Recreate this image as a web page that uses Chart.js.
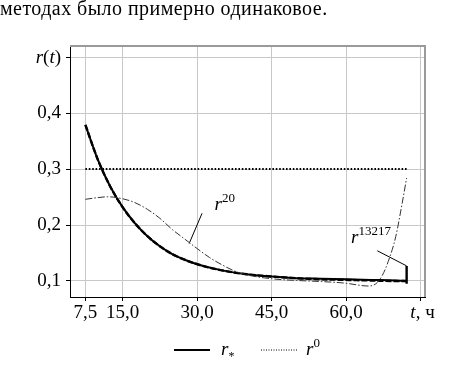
<!DOCTYPE html>
<html>
<head>
<meta charset="utf-8">
<script src="https://cdn.jsdelivr.net/npm/chart.js@4"></script>
<style>
  html, body { margin: 0; padding: 0; background: #fff; }
  #wrap { position: relative; width: 471px; height: 367px; overflow: hidden; }
  #lead {
    position: absolute; left: 0; top: -2px;
    font: 20px "Liberation Serif", "Times New Roman", serif;
    letter-spacing: 0.45px;
    line-height: 20px; white-space: nowrap; color: #000;
  }
  canvas { position: absolute; left: 0; top: 0; }
</style>
</head>
<body>
<div id="wrap">
  <canvas id="chart" width="471" height="367"></canvas>
  <div id="lead">методах было примерно одинаковое.</div>
</div>
<script>
/* ── data ────────────────────────────────────────────────── */

const X_TICKS = [7.5, 15, 30, 45, 60, 75];
const Y_TICKS = [0.1, 0.2, 0.3, 0.4, 0.5];

// r* — solid
const T_STAR = [7.5, 10, 12.5, 15, 17.5, 20, 22.5, 25, 27.5, 30, 35, 40, 45, 50, 55, 60, 65, 70, 72.2];
const R_STAR = [0.379, 0.317, 0.269, 0.232, 0.203, 0.180, 0.162, 0.148, 0.138, 0.130, 0.119, 0.112, 0.108, 0.105, 0.104, 0.103, 0.102, 0.101, 0.100];

// r^13217 — dashed, ends with a jump
const T_13217 = [7.5, 10, 12.5, 15, 17.5, 20, 22.5, 25, 27.5, 30, 35, 40, 45, 50, 55, 60, 65, 70, 72.2, 72.2, 72.2];
const R_13217 = [0.379, 0.317, 0.269, 0.232, 0.203, 0.180, 0.162, 0.148, 0.138, 0.130, 0.119, 0.112, 0.108, 0.105, 0.103, 0.102, 0.101, 0.100, 0.100, 0.127, 0.095];

// r^20 — dash-dot
const T_20 = [7.5, 10, 12, 15, 17.5, 20, 22.5, 25, 27.5, 30, 32.5, 35, 37.5, 40, 45, 50, 55, 60, 63, 64.5, 66, 67.3, 68.5, 70, 71.3, 72.2];
const R_20 = [0.246, 0.249, 0.2505, 0.247, 0.240, 0.228, 0.212, 0.192, 0.175, 0.158, 0.142, 0.129, 0.118, 0.111, 0.104, 0.101, 0.099, 0.096, 0.092, 0.091, 0.095, 0.110, 0.135, 0.179, 0.239, 0.284];

// r^0 — dotted
const T_0 = [7.5, 72.2];
const R_0 = [0.3, 0.3];

// label leader lines
const PTR20_T = [31.0, 28.4];
const PTR20_R = [0.221, 0.167];
const PTR13217_T = [66.3, 72.2];
const PTR13217_R = [0.154, 0.127];

// label anchors (data coords)
const LBL20 = { t: 33.5, r: 0.227, sup: "20" };
const LBL13217 = { t: 61.0, r: 0.168, sup: "13217" };

/* ── helpers ─────────────────────────────────────────────── */

const FONT = '"Liberation Serif", "Times New Roman", serif';
const font = (size, italic) => `${italic ? "italic " : ""}${size}px ${FONT}`;
const zip = (xs, ys) => xs.map((x, i) => ({ x, y: ys[i] }));

function drawRuns(ctx, runs, x, y, align = "left") {
  let w = 0;
  runs.forEach(r => { ctx.font = font(r.size, r.italic); r.w = ctx.measureText(r.text).width; w += r.w; });
  let cx = align === "right" ? x - w : align === "center" ? x - w / 2 : x;
  ctx.textAlign = "left";
  ctx.textBaseline = "alphabetic";
  ctx.fillStyle = "#000";
  runs.forEach(r => {
    ctx.font = font(r.size, r.italic);
    ctx.fillText(r.text, cx, y + (r.dy || 0));
    cx += r.w;
  });
}

function line(ctx, x1, y1, x2, y2, width, dash) {
  ctx.save();
  ctx.strokeStyle = "#000";
  ctx.lineWidth = width;
  ctx.setLineDash(dash || []);
  ctx.beginPath();
  ctx.moveTo(x1, y1);
  ctx.lineTo(x2, y2);
  ctx.stroke();
  ctx.restore();
}

/* ── extras: frame, labels, legend ───────────────────────── */

const extras = {
  id: "extras",
  afterDraw(chart) {
    const { ctx, chartArea: a, scales: { x, y } } = chart;

    // gray top/right frame
    ctx.save();
    ctx.strokeStyle = "#9a9a9a";
    ctx.lineWidth = 2;
    ctx.beginPath();
    ctx.moveTo(a.left, a.top);
    ctx.lineTo(a.right, a.top);
    ctx.lineTo(a.right, a.bottom);
    ctx.stroke();
    ctx.restore();

    // axis titles
    drawRuns(ctx, [
      { text: "r", size: 19, italic: true },
      { text: "(", size: 19 },
      { text: "t", size: 19, italic: true },
      { text: ")", size: 19 },
    ], 61, y.getPixelForValue(0.5) + 6, "right");

    drawRuns(ctx, [
      { text: "t", size: 19, italic: true },
      { text: ", ч", size: 19 },
    ], x.getPixelForValue(75) + 2, 318, "center");

    // curve labels
    for (const l of [LBL20, LBL13217]) {
      drawRuns(ctx, [
        { text: "r", size: 19, italic: true },
        { text: l.sup, size: 13, dy: -8 },
      ], x.getPixelForValue(l.t), y.getPixelForValue(l.r));
    }

    // legend
    const ly = 350;
    line(ctx, 174, ly, 210, ly, 2);
    drawRuns(ctx, [
      { text: "r", size: 19, italic: true },
      { text: "*", size: 12, dy: 5 },
    ], 221, ly + 5);
    line(ctx, 261, ly, 298, ly, 1, [1, 1.5]);
    drawRuns(ctx, [
      { text: "r", size: 19, italic: true },
      { text: "0", size: 13, dy: -8 },
    ], 306, ly + 5);
  },
};

/* ── chart ───────────────────────────────────────────────── */

const base = { pointRadius: 0, fill: false, cubicInterpolationMode: "monotone", borderColor: "#000" };

new Chart(document.getElementById("chart"), {
  type: "scatter",
  data: {
    datasets: [
      { ...base, label: "r0", data: zip(T_0, R_0), showLine: true, borderWidth: 2, borderDash: [1.6, 1.8] },
      { ...base, label: "r20", data: zip(T_20, R_20), showLine: true, borderWidth: 1, borderColor: "#333", borderDash: [7, 2, 1.5, 2] },
      { ...base, label: "r*", data: zip(T_STAR, R_STAR), showLine: true, borderWidth: 2 },
      { ...base, label: "r13217", data: zip(T_13217, R_13217), showLine: true, borderWidth: 2.4, borderDash: [6, 2] },
      { ...base, label: "ptr20", data: zip(PTR20_T, PTR20_R), showLine: true, borderWidth: 1, cubicInterpolationMode: "default", tension: 0 },
      { ...base, label: "ptr13217", data: zip(PTR13217_T, PTR13217_R), showLine: true, borderWidth: 1, cubicInterpolationMode: "default", tension: 0 },
    ],
  },
  options: {
    responsive: false,
    animation: false,
    layout: { padding: { left: 0, top: 46, right: 46, bottom: 0 } },
    plugins: { legend: { display: false }, tooltip: { enabled: false } },
    scales: {
      x: {
        type: "linear",
        min: 4.4,
        max: 75.9,
        afterFit(s) { s.height = 70; },
        afterBuildTicks(s) { s.ticks = X_TICKS.map(v => ({ value: v })); },
        ticks: {
          color: "#000",
          font: { family: FONT, size: 19 },
          padding: 1,
          maxRotation: 0,
          autoSkip: false,
          callback: v => v === 75 ? "" : v.toFixed(1).replace(".", ","),
        },
        grid: { color: "#c8c8c8", lineWidth: 1, tickColor: "#000", tickLength: 4 },
        border: { display: true, color: "#000", width: 1 },
      },
      y: {
        type: "linear",
        min: 0.0714,
        max: 0.52,
        afterFit(s) { s.width = 70; },
        afterBuildTicks(s) { s.ticks = Y_TICKS.map(v => ({ value: v })); },
        ticks: {
          color: "#000",
          font: { family: FONT, size: 19 },
          padding: 5,
          autoSkip: false,
          callback: v => v === 0.5 ? "" : v.toFixed(1).replace(".", ","),
        },
        grid: { color: "#c8c8c8", lineWidth: 1, tickColor: "#000", tickLength: 4 },
        border: { display: true, color: "#000", width: 1 },
      },
    },
  },
  plugins: [extras],
});
</script>
</body>
</html>
